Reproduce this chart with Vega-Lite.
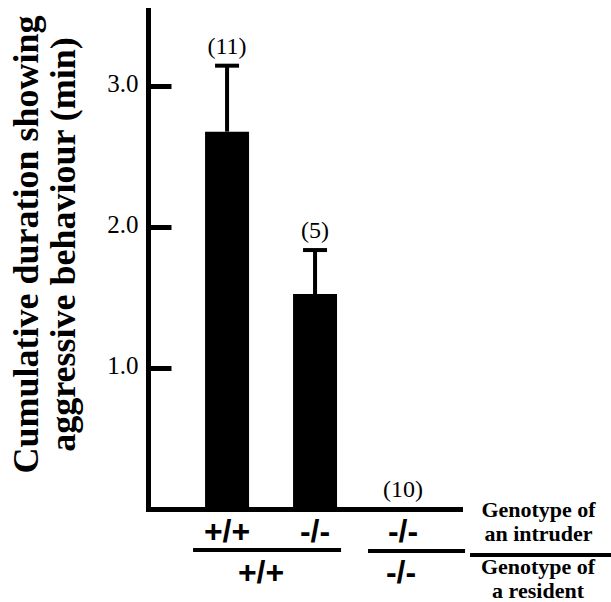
{
  "$schema": "https://vega.github.io/schema/vega-lite/v6.json",
  "width": 312,
  "height": 499,
  "autosize": {"type": "none"},
  "padding": {"left": 148, "top": 10, "right": 151, "bottom": 93},
  "background": "white",
  "config": {
    "view": {"stroke": null},
    "font": "Liberation Serif",
    "axis": {"grid": false}
  },
  "data": {
    "values": [
      {"pair": "+/+|+/+", "intruder": "+/+", "resident": "+/+", "mean": 2.677, "upper": 3.145, "n": "(11)"},
      {"pair": "-/-|+/+", "intruder": "-/-", "resident": "+/+", "mean": 1.525, "upper": 1.837, "n": "(5)"},
      {"pair": "-/-|-/-", "intruder": "-/-", "resident": "-/-", "mean": 0, "upper": 0, "n": "(10)"}
    ]
  },
  "encoding": {
    "x": {
      "field": "pair",
      "type": "nominal",
      "sort": null,
      "scale": {"type": "band", "paddingInner": 0.5, "paddingOuter": 0.523, "align": 0.62},
      "axis": {
        "labelExpr": "split(datum.label, '|')[0]",
        "labelFont": "Liberation Sans",
        "labelFontWeight": "bold",
        "labelFontSize": 32,
        "labelColor": "black",
        "labelBaseline": "middle",
        "labelAngle": 0,
        "labelPadding": 22,
        "ticks": false,
        "tickSize": 0,
        "domainColor": "black",
        "domainWidth": 5,
        "domainCap": "square",
        "title": ["Genotype of", "an intruder"],
        "titleFont": "Liberation Serif",
        "titleFontWeight": "bold",
        "titleFontSize": 22,
        "titleColor": "black",
        "titleLineHeight": 24,
        "titleX": 390,
        "titleY": 7,
        "titleAlign": "center",
        "titleBaseline": "alphabetic",
        "titleAngle": 0
      }
    }
  },
  "layer": [
    {
      "mark": {"type": "bar", "color": "black", "opacity": 1},
      "encoding": {
        "y": {
          "field": "mean",
          "type": "quantitative",
          "scale": {"domain": [0, 3.54], "nice": false, "zero": true},
          "axis": {
            "values": [1, 2, 3],
            "format": ".1f",
            "labelFont": "Liberation Serif",
            "labelFontSize": 25,
            "labelColor": "black",
            "labelAlign": "right",
            "labelBaseline": "middle",
            "labelOffset": -3,
            "labelPadding": 33,
            "tickSize": -23,
            "tickWidth": 5,
            "tickColor": "black",
            "domainColor": "black",
            "domainWidth": 5,
            "domainCap": "square",
            "title": ["Cumulative duration showing", "aggressive behaviour (min)"],
            "titleFont": "Liberation Serif",
            "titleFontWeight": "bold",
            "titleFontSize": 36,
            "titleColor": "black",
            "titleLineHeight": 37,
            "titleAngle": -90,
            "titleAlign": "center",
            "titleBaseline": "alphabetic",
            "titleX": -111,
            "titleY": 234
          }
        }
      }
    },
    {
      "transform": [{"filter": "datum.upper > datum.mean"}],
      "mark": {"type": "rule", "strokeWidth": 4, "color": "black", "opacity": 1},
      "encoding": {
        "y": {"field": "mean", "type": "quantitative"},
        "y2": {"field": "upper"}
      }
    },
    {
      "transform": [{"filter": "datum.upper > datum.mean"}],
      "mark": {"type": "tick", "orient": "horizontal", "size": 24, "thickness": 4, "color": "black", "opacity": 1},
      "encoding": {
        "y": {"field": "upper", "type": "quantitative"}
      }
    },
    {
      "mark": {"type": "text", "baseline": "bottom", "dy": -7, "fontSize": 24, "font": "Liberation Serif", "color": "black"},
      "encoding": {
        "y": {"field": "upper", "type": "quantitative"},
        "text": {"field": "n"}
      }
    },
    {
      "data": {"values": [{"resident": "+/+"}]},
      "mark": {"type": "rule", "strokeWidth": 4, "color": "black", "xOffset": -34, "x2Offset": 26, "yOffset": 41},
      "encoding": {
        "x": {"datum": "+/+|+/+"},
        "x2": {"datum": "-/-|+/+"},
        "y": {"datum": 0, "type": "quantitative"}
      }
    },
    {
      "data": {"values": [{"resident": "-/-"}]},
      "mark": {"type": "rule", "strokeWidth": 4, "color": "black", "xOffset": -35, "x2Offset": 62, "yOffset": 42},
      "encoding": {
        "x": {"datum": "-/-|-/-"},
        "x2": {"datum": "-/-|-/-"},
        "y": {"datum": 0, "type": "quantitative"}
      }
    },
    {
      "data": {"values": [{"key": "genotype"}]},
      "mark": {"type": "rule", "strokeWidth": 4, "color": "black", "xOffset": 67, "x2Offset": 208, "yOffset": 46},
      "encoding": {
        "x": {"datum": "-/-|-/-"},
        "x2": {"datum": "-/-|-/-"},
        "y": {"datum": 0, "type": "quantitative"}
      }
    },
    {
      "data": {"values": [{"label": "Genotype of\na resident"}]},
      "mark": {"type": "text", "font": "Liberation Serif", "fontWeight": "bold", "fontSize": 22, "baseline": "alphabetic", "align": "center", "lineBreak": "\n", "lineHeight": 24, "dx": 135, "dy": 65, "color": "black"},
      "encoding": {
        "x": {"datum": "-/-|-/-"},
        "y": {"datum": 0, "type": "quantitative"},
        "text": {"field": "label"}
      }
    },
    {
      "data": {"values": [{"resident": "+/+"}]},
      "mark": {"type": "text", "font": "Liberation Sans", "fontWeight": "bold", "fontSize": 32, "baseline": "middle", "dx": 34, "dy": 64, "color": "black"},
      "encoding": {
        "x": {"datum": "+/+|+/+"},
        "y": {"datum": 0, "type": "quantitative"},
        "text": {"field": "resident"}
      }
    },
    {
      "data": {"values": [{"resident": "-/-"}]},
      "mark": {"type": "text", "font": "Liberation Sans", "fontWeight": "bold", "fontSize": 32, "baseline": "middle", "dx": -2, "dy": 64, "color": "black"},
      "encoding": {
        "x": {"datum": "-/-|-/-"},
        "y": {"datum": 0, "type": "quantitative"},
        "text": {"field": "resident"}
      }
    }
  ]
}
